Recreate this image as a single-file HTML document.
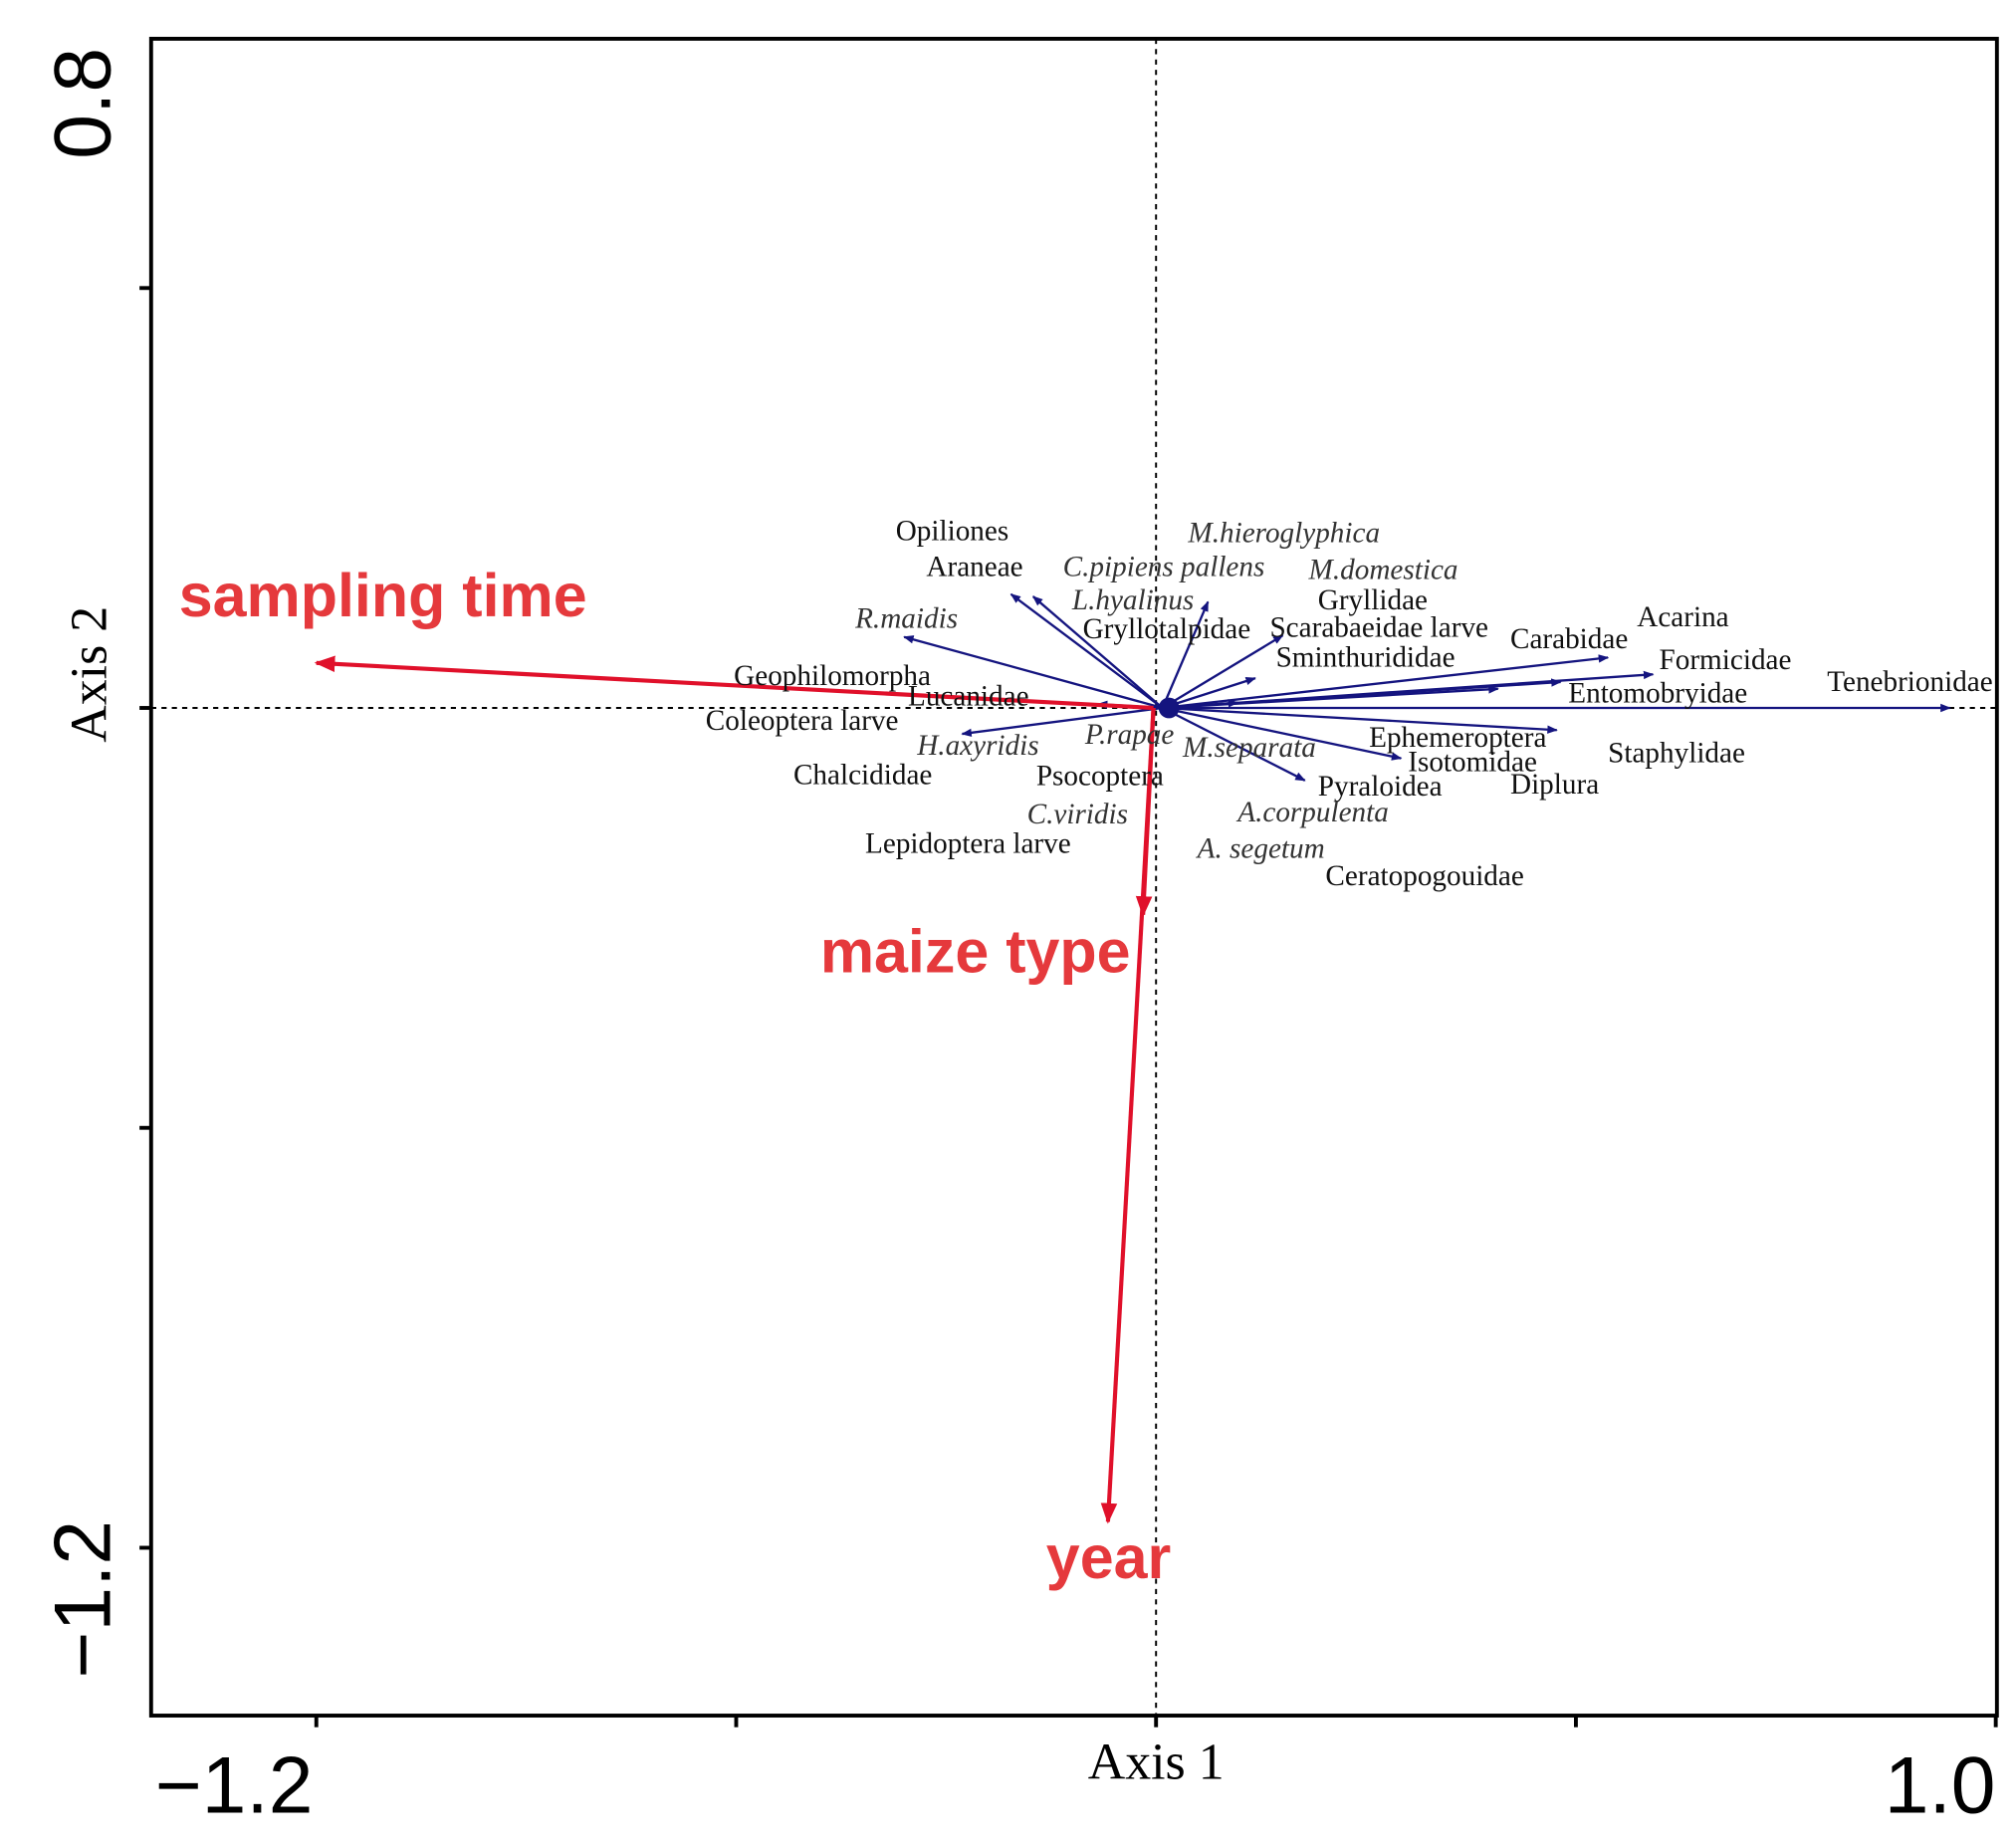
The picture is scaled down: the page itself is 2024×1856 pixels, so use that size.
<!DOCTYPE html>
<html><head><meta charset="utf-8"><style>
html,body{margin:0;padding:0;background:#fff;}
svg{display:block;}
.sp{font-family:"Liberation Serif",serif;font-size:22.5px;fill:#111;}
.it{font-style:italic;fill:#333;}
.red{font-family:"Liberation Sans",sans-serif;font-weight:bold;font-size:47px;fill:#e5393c;}
</style></head><body>
<svg id="chart" width="2024" height="1856" viewBox="0 0 1560 1430.5" xmlns="http://www.w3.org/2000/svg">
<defs>
<marker id="ab" viewBox="0 0 10 10" refX="9" refY="5" markerWidth="4.5" markerHeight="4.5" orient="auto"><path d="M0,1 L10,5 L0,9 Z" fill="#14147f"/></marker>
<marker id="ar" viewBox="0 0 10 10" refX="9" refY="5" markerWidth="5" markerHeight="5" orient="auto"><path d="M0,1 L10,5 L0,9 Z" fill="#e0102a"/></marker>
</defs>
<rect x="117" y="30" width="1429" height="1298" fill="none" stroke="#000" stroke-width="3"/>
<g id="ticks"></g>
<line x1="895" y1="30" x2="895" y2="1328" stroke="#000" stroke-width="1.5" stroke-dasharray="4,4"/>
<line x1="117" y1="548" x2="1546" y2="548" stroke="#000" stroke-width="1.5" stroke-dasharray="4,4"/>
<g id="blue"></g>
<g id="redg"></g>
<g id="labels"></g>
<text x="895" y="1377" text-anchor="middle" font-family="Liberation Serif,serif" font-size="40">Axis 1</text>
<text transform="translate(82,522) rotate(-90)" text-anchor="middle" font-family="Liberation Serif,serif" font-size="40">Axis 2</text>
<text x="120" y="1403" font-family="Liberation Sans,sans-serif" font-size="62">−1.2</text>
<text x="1545" y="1403" text-anchor="end" font-family="Liberation Sans,sans-serif" font-size="62">1.0</text>
<text transform="translate(85,80) rotate(-90)" text-anchor="middle" font-family="Liberation Sans,sans-serif" font-size="62">0.8</text>
<text transform="translate(85,1238) rotate(-90)" text-anchor="middle" font-family="Liberation Sans,sans-serif" font-size="62">−1.2</text>
</svg>
<script>
const speciesX=[-0.19,-0.161,0.068,-0.33,0.166,0.13,0.592,0.651,0.53,0.448,1.04,0.525,0.321,0.195,-0.254,-0.076,0.107];
const speciesY=[0.149,0.146,0.139,0.093,0.095,0.039,0.066,0.044,0.034,0.025,0,-0.029,-0.066,-0.095,-0.034,0.005,0.007];
const envNames=["sampling time","maize type","year"];
const envX=[-1.1,-0.017,-0.063];
const envY=[0.059,-0.271,-1.066];
const xTicks=[-1.1,-0.55,0,0.55,1.1];
const yTicks=[0.55,0,-0.55,-1.1];
const labelNames=["Opiliones","Araneae","C.pipiens pallens","M.hieroglyphica","M.domestica","L.hyalinus","Gryllidae","R.maidis","Gryllotalpidae","Scarabaeidae larve","Carabidae","Acarina","Sminthurididae","Formicidae","Geophilomorpha","Lucanidae","Entomobryidae","Tenebrionidae","Coleoptera larve","H.axyridis","P.rapae","M.separata","Ephemeroptera","Isotomidae","Staphylidae","Chalcididae","Psocoptera","Pyraloidea","Diplura","A.corpulenta","C.viridis","Lepidoptera larve","A. segetum","Ceratopogouidae"];
const labelItalic=[0,0,1,1,1,1,0,1,0,0,0,0,0,0,0,0,0,0,0,1,1,1,0,0,0,0,0,0,0,1,1,0,1,0];
const labelX=[-0.341,-0.301,-0.122,0.042,0.2,-0.11,0.212,-0.394,-0.096,0.149,0.464,0.63,0.157,0.659,-0.553,-0.325,0.54,0.879,-0.59,-0.313,-0.093,0.035,0.279,0.33,0.592,-0.475,-0.157,0.212,0.464,0.107,-0.169,-0.381,0.054,0.222];
const labelY=[0.22,0.173,0.173,0.217,0.169,0.129,0.129,0.105,0.091,0.093,0.078,0.107,0.054,0.051,0.03,0.003,0.007,0.022,-0.029,-0.061,-0.047,-0.064,-0.051,-0.083,-0.071,-0.10,-0.101,-0.115,-0.112,-0.149,-0.151,-0.19,-0.196,-0.232];
const redLabelX=[-1.28,-0.44,-0.144];
const redLabelY=[0.12,-0.346,-1.14];
const NS="http://www.w3.org/2000/svg";
const X0=895,Y0=548,U=591;
function sx(v){return X0+v*U;}
function sy(v){return Y0-v*U;}
function mk(t,a,p){const e=document.createElementNS(NS,t);for(const k in a)e.setAttribute(k,a[k]);p.appendChild(e);return e;}
const tg=document.getElementById('ticks');
xTicks.forEach((v,i)=>{const e=mk('line',{x1:sx(v),x2:sx(v),y1:1328,y2:1337,stroke:'#000','stroke-width':3},tg);

});
yTicks.forEach((v,i)=>{const e=mk('line',{x1:108,x2:117,y1:sy(v),y2:sy(v),stroke:'#000','stroke-width':3},tg);

});
const bg=document.getElementById('blue');
speciesX.forEach((v,i)=>{const e=mk('line',{x1:X0+5,y1:Y0,x2:sx(v),y2:sy(speciesY[i]),stroke:'#14147f','stroke-width':1.8,'marker-end':'url(#ab)'},bg);

});
mk('circle',{cx:X0+10,cy:Y0,r:8,fill:'#14147f'},bg);
const rg=document.getElementById('redg');
envX.forEach((v,i)=>{const e=mk('line',{x1:X0-2,y1:Y0,x2:sx(v),y2:sy(envY[i]),stroke:'#e0102a','stroke-width':3.2,'marker-end':'url(#ar)'},rg);


const t=mk('text',{x:sx(redLabelX[i]),y:sy(redLabelY[i]),class:'red'},rg);t.textContent=envNames[i];

});
const lg=document.getElementById('labels');
labelNames.forEach((n,i)=>{const t=mk('text',{x:sx(labelX[i]),y:sy(labelY[i]),class:'sp'+(labelItalic[i]?' it':'')},lg);t.textContent=n;

});
</script>
</body></html>
